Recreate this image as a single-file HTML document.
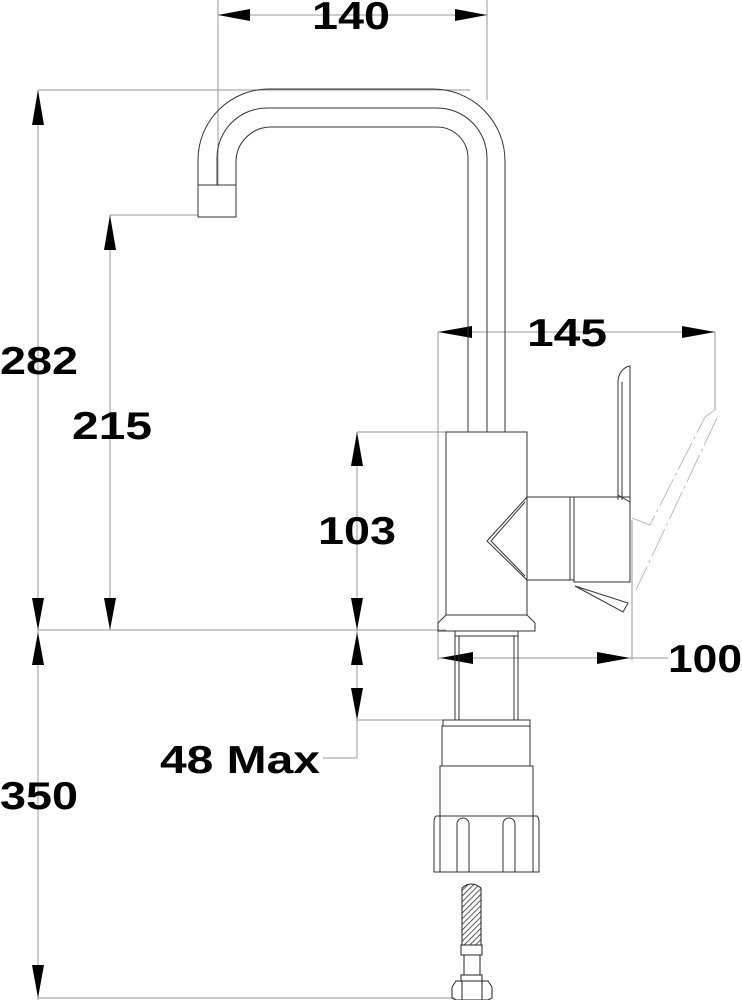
<!DOCTYPE html>
<html><head><meta charset="utf-8"><style>
html,body{margin:0;padding:0;background:#fff;}
svg{display:block}
text{font-family:"Liberation Sans",Arial,sans-serif;font-weight:bold;fill:#000}
</style></head><body>
<svg width="742" height="1000" viewBox="0 0 742 1000" xmlns="http://www.w3.org/2000/svg">
<defs>
<pattern id="hatch" width="4" height="4" patternUnits="userSpaceOnUse" patternTransform="rotate(45)">
<rect width="4" height="4" fill="#fff"/><line x1="0" y1="0" x2="0" y2="4" stroke="#333" stroke-width="1.6"/>
</pattern>
</defs>
<g stroke="#999" stroke-width="1" fill="none">
<line x1="218" y1="15" x2="487" y2="15"/>
<line x1="218" y1="0" x2="218" y2="186"/>
<line x1="487" y1="0" x2="487" y2="100"/>
<line x1="38" y1="90" x2="38" y2="1000"/>
<line x1="38" y1="90" x2="470" y2="90"/>
<line x1="110" y1="215" x2="110" y2="630"/>
<line x1="110" y1="215" x2="198" y2="215"/>
<line x1="357" y1="432" x2="357" y2="758"/>
<line x1="357" y1="432" x2="446" y2="432"/>
<line x1="38" y1="630" x2="446" y2="630"/>
<line x1="357" y1="720" x2="446" y2="720"/>
<line x1="357" y1="758" x2="323" y2="758"/>
<line x1="38" y1="998" x2="455" y2="998"/>
<line x1="438" y1="332" x2="715" y2="332"/>
<line x1="438" y1="332" x2="438" y2="660"/>
<line x1="715" y1="332" x2="715" y2="410"/>
<line x1="438" y1="658" x2="632" y2="658"/>
<line x1="632" y1="520" x2="632" y2="660"/>
<line x1="632" y1="658" x2="668" y2="658"/>
</g>
<g stroke="#bbb" stroke-width="1" fill="none" stroke-dasharray="30 4 3 4">
<path d="M715 410 L705 417 L650 525 L632 518"/>
<path d="M717 418 L636 590"/>
</g>
<g fill="#000">
<polygon points="218,15 250,9 250,21"/>
<polygon points="487,15 455,9 455,21"/>
<polygon points="38,90 32,125 44,125"/>
<polygon points="38,630 32,598 44,598"/>
<polygon points="38,632 32,665 44,665"/>
<polygon points="38,998 32,965 44,965"/>
<polygon points="110,215 104,250 116,250"/>
<polygon points="110,630 104,598 116,598"/>
<polygon points="357,432 351,466 363,466"/>
<polygon points="357,630 351,598 363,598"/>
<polygon points="357,632 351,665 363,665"/>
<polygon points="357,720 351,688 363,688"/>
<polygon points="438,332 472,326 472,338"/>
<polygon points="715,332 682,326 682,338"/>
<polygon points="440,658 473,652 473,664"/>
<polygon points="630,658 597,652 597,664"/>
</g>
<g font-size="39">
<text x="312" y="29" textLength="78" lengthAdjust="spacingAndGlyphs">140</text>
<text x="0" y="374" textLength="78" lengthAdjust="spacingAndGlyphs">282</text>
<text x="72" y="439" textLength="80" lengthAdjust="spacingAndGlyphs">215</text>
<text x="318" y="544" textLength="78" lengthAdjust="spacingAndGlyphs">103</text>
<text x="527" y="346" textLength="80" lengthAdjust="spacingAndGlyphs">145</text>
<text x="668" y="672" textLength="74" lengthAdjust="spacingAndGlyphs">100</text>
<text x="160" y="773" textLength="160" lengthAdjust="spacingAndGlyphs">48 Max</text>
<text x="0" y="809" textLength="78" lengthAdjust="spacingAndGlyphs">350</text>
</g>
<g stroke="#333" stroke-width="1" fill="none">
<path d="M198 185 L198 160 A71 71 0 0 1 269 89 L433 89 A72 72 0 0 1 505 161 L505 432"/>
<path d="M217 185 L217 158 A50 50 0 0 1 267 108 L437 108 A50 50 0 0 1 487 158 L487 432"/>
<path d="M236 185 L236 162 A35 35 0 0 1 271 127 L437 127 A31 31 0 0 1 468 158 L468 432"/>
<rect x="198" y="185" width="38" height="32"/>
<rect x="446" y="432" width="81" height="183"/>
<path d="M446 615 L438 623 L438 631 L535 631 L535 623 L527 615"/>
<path d="M527 497 L570 497 L570 580 L527 580"/>
<path d="M527 497 L487 541 L527 580"/>
<path d="M525 502 L491 541 L525 576"/>
<rect x="570" y="497" width="4" height="83"/>
<rect x="574" y="497" width="56" height="85"/>
<path d="M618 500 L618 382 A14 16 0 0 1 630 366 L630 500"/>
<path d="M622 500 L622 382"/>
<path d="M618 495 L630 502"/>
<path d="M575 586 L628 603 L623 612 Z"/>
<path d="M455 631 L455 720 M518 631 L518 720 M459 636 L459 720 M514 636 L514 720 M455 636 L518 636"/>
<rect x="443" y="720" width="87" height="6"/>
<rect x="442" y="726" width="88" height="40"/>
<rect x="440" y="766" width="93" height="50"/>
<path d="M436 816 L537 816 Q539 818 539 822 L539 872 L434 872 L434 822 Q434 818 436 816"/>
<path d="M440 816 L440 872 M533 816 L533 872"/>
<path d="M457 872 L457 824 A6 6 0 0 1 469 824 L469 872"/>
<path d="M503 872 L503 824 A6 6 0 0 1 515 824 L515 872"/>
</g>
<g stroke="#222" stroke-width="1" fill="none">
<path d="M462 945 L462 888 Q471 880 481 888 L481 945 Z" fill="url(#hatch)"/>
<rect x="461" y="945" width="21" height="10"/>
<rect x="464" y="955" width="16" height="20"/>
<rect x="461" y="975" width="21" height="6"/>
<path d="M456 981 L488 981 L492 987 L492 998 L488 1000 L456 1000 L452 998 L452 987 Z"/>
<path d="M462 981 L462 1000 M482 981 L482 1000"/>
</g>
</svg>
</body></html>
